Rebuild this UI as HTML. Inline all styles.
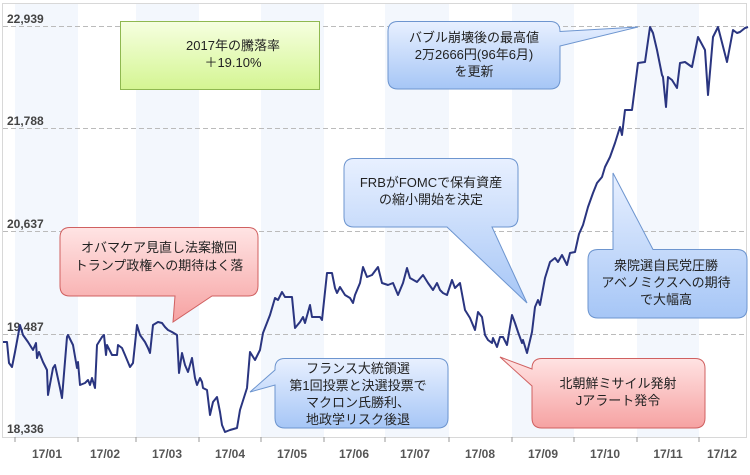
<!DOCTYPE html>
<html><head><meta charset="utf-8"><style>
body{margin:0;background:#fff;}
svg text{font-family:"Liberation Sans","Noto Sans CJK JP",sans-serif;}
</style></head><body>
<svg width="750" height="470" viewBox="0 0 750 470" xmlns="http://www.w3.org/2000/svg">
<defs>
<linearGradient id="gG" x1="0" y1="0" x2="0" y2="1"><stop offset="0" stop-color="#f6ffe0"/><stop offset="1" stop-color="#d4f592"/></linearGradient>
<linearGradient id="gB" x1="0" y1="0" x2="0" y2="1"><stop offset="0" stop-color="#e8f0ff"/><stop offset="1" stop-color="#a6c6f6"/></linearGradient>
<linearGradient id="gR" x1="0" y1="0" x2="0" y2="1"><stop offset="0" stop-color="#ffe4e4"/><stop offset="1" stop-color="#f6a2a2"/></linearGradient>
</defs>
<rect x="0" y="0" width="750" height="470" fill="#fff"/>
<g fill="#f3f7fd">
<rect x="15" y="4" width="63" height="433"/>
<rect x="136" y="4" width="63" height="433"/>
<rect x="261" y="4" width="63" height="433"/>
<rect x="385" y="4" width="64" height="433"/>
<rect x="512" y="4" width="62" height="433"/>
<rect x="637" y="4" width="62" height="433"/>
</g>
<rect x="2.5" y="3.5" width="744" height="434" fill="none" stroke="#d8d8d8"/>
<g stroke="#bbb" stroke-dasharray="5,3" stroke-width="1">
<line x1="3" y1="26.5" x2="746" y2="26.5"/>
<line x1="3" y1="128.5" x2="746" y2="128.5"/>
<line x1="3" y1="231.5" x2="746" y2="231.5"/>
<line x1="3" y1="334.5" x2="746" y2="334.5"/>
</g>
<g font-size="12" font-weight="bold" fill="#444">
<text x="7" y="23">22,939</text>
<text x="7" y="125">21,788</text>
<text x="7" y="228">20,637</text>
<text x="7" y="331">19,487</text>
<text x="7" y="433">18,336</text>
</g>
<g stroke="#999" stroke-width="1">
<line x1="15" y1="437" x2="15" y2="442"/><line x1="78" y1="437" x2="78" y2="442"/>
<line x1="136" y1="437" x2="136" y2="442"/><line x1="199" y1="437" x2="199" y2="442"/>
<line x1="261" y1="437" x2="261" y2="442"/><line x1="324" y1="437" x2="324" y2="442"/>
<line x1="385" y1="437" x2="385" y2="442"/><line x1="449" y1="437" x2="449" y2="442"/>
<line x1="512" y1="437" x2="512" y2="442"/><line x1="574" y1="437" x2="574" y2="442"/>
<line x1="637" y1="437" x2="637" y2="442"/><line x1="699" y1="437" x2="699" y2="442"/>
</g>
<g font-size="12" font-weight="bold" fill="#555" text-anchor="middle">
<text x="47" y="458">17/01</text><text x="105" y="458">17/02</text><text x="167" y="458">17/03</text>
<text x="230" y="458">17/04</text><text x="292" y="458">17/05</text><text x="354" y="458">17/06</text>
<text x="415" y="458">17/07</text><text x="480" y="458">17/08</text><text x="543" y="458">17/09</text>
<text x="605" y="458">17/10</text><text x="668" y="458">17/11</text><text x="722" y="458">17/12</text>
</g>
<polyline fill="none" stroke="#2a3580" stroke-width="2" stroke-linejoin="round" points="3,342 7,342 9,363 12,367 15,352 20,325 23,335 28,342 33,350 36,343 37,358 39,352 43,362 47,370 48,395 53,368 55,365 60,388 62,398 67,337 68,335 73,345 77,368 78,362 80,385 85,383 88,380 90,385 92,378 95,388 97,345 102,337 104,335 106,355 107,345 112,355 117,355 118,345 122,348 125,355 130,367 133,363 137,325 140,335 145,342 148,348 150,353 153,325 158,322 162,323 165,327 168,330 172,332 177,335 179,373 182,353 185,365 188,372 192,358 195,378 197,385 200,378 202,382 203,388 207,390 210,415 213,402 217,397 220,412 222,425 225,432 230,430 237,428 240,410 247,388 250,352 255,360 260,350 263,333 270,315 275,298 278,300 282,292 285,297 292,297 295,328 300,322 303,317 305,323 310,305 312,317 320,317 322,320 327,273 332,273 335,288 337,293 340,287 345,295 350,298 353,303 355,295 360,283 363,267 367,277 372,275 378,267 382,283 388,285 393,283 398,295 403,283 407,268 410,278 417,282 423,275 428,283 433,290 437,283 440,290 443,293 447,295 452,280 455,288 460,283 465,310 470,318 475,330 478,312 482,317 485,335 488,340 492,343 493,338 497,347 500,337 503,337 507,345 512,315 515,323 518,332 522,343 523,340 527,353 532,332 535,307 538,300 540,305 545,278 550,262 555,258 558,262 562,255 567,265 570,253 575,252 579,234 583,225 588,207 593,193 597,183 602,177 605,167 610,157 615,143 620,127 622,135 625,110 632,110 638,63 645,62 650,27 653,33 657,50 662,75 663,77 666,107 668,77 672,80 677,88 680,63 685,62 692,67 698,37 705,50 708,95 713,37 718,27 727,62 733,30 737,33 740,32 745,28 748,27"/>
<!-- green box -->
<rect x="120.5" y="21.5" width="199" height="68" fill="url(#gG)" stroke="#8fb850"/>
<g font-size="13" fill="#222" text-anchor="middle">
<text x="233" y="50">2017年の騰落率</text><text x="233" y="67">＋19.10%</text>
</g>
<!-- bubble callout -->
<path d="M398,21.5 H550 Q560,21.5 560,31.5 L638,27 L560,46 V79 Q560,89 550,89 H398 Q388,89 388,79 V31.5 Q388,21.5 398,21.5 Z" fill="url(#gB)" stroke="#6d95cf"/>
<g font-size="13" fill="#222" text-anchor="middle">
<text x="474" y="42">バブル崩壊後の最高値</text><text x="474" y="59">2万2666円(96年6月)</text><text x="474" y="76">を更新</text>
</g>
<!-- FRB -->
<path d="M354,158.5 H508 Q518,158.5 518,168.5 V217 Q518,227 508,227 H492 L527,303 L447,227 H354 Q344,227 344,217 V168.5 Q344,158.5 354,158.5 Z" fill="url(#gB)" stroke="#6d95cf"/>
<g font-size="13" fill="#222" text-anchor="middle">
<text x="431" y="187">FRBがFOMCで保有資産</text><text x="431" y="204">の縮小開始を決定</text>
</g>
<!-- Obamacare -->
<path d="M70,227.5 H248 Q258,227.5 258,237.5 V286 Q258,296 248,296 H212 L173,322 L175,296 H70 Q60,296 60,286 V237.5 Q60,227.5 70,227.5 Z" fill="url(#gR)" stroke="#d06060"/>
<g font-size="13" fill="#222" text-anchor="middle">
<text x="159" y="252">オバマケア見直し法案撤回</text><text x="159" y="270">トランプ政権への期待はく落</text>
</g>
<!-- France -->
<path d="M285,358.5 H438 Q448,358.5 448,368.5 V418 Q448,428 438,428 H285 Q275,428 275,418 V385 L250,392 L275,370 V368.5 Q275,358.5 285,358.5 Z" fill="url(#gB)" stroke="#6d95cf"/>
<g font-size="13" fill="#222" text-anchor="middle">
<text x="358" y="373">フランス大統領選</text><text x="358" y="390">第1回投票と決選投票で</text><text x="358" y="407">マクロン氏勝利、</text><text x="358" y="424">地政学リスク後退</text>
</g>
<!-- North Korea -->
<path d="M542,358.5 H695 Q705,358.5 705,368.5 V418 Q705,428 695,428 H542 Q532,428 532,418 V386 L500,357 L532,369 V368.5 Q532,358.5 542,358.5 Z" fill="url(#gR)" stroke="#d06060"/>
<g font-size="13" fill="#222" text-anchor="middle">
<text x="618" y="388">北朝鮮ミサイル発射</text><text x="618" y="405">Jアラート発令</text>
</g>
<!-- Election -->
<path d="M598,249.5 H613 L613,173 L653,249.5 H737 Q747,249.5 747,259.5 V308 Q747,318 737,318 H598 Q588,318 588,308 V259.5 Q588,249.5 598,249.5 Z" fill="url(#gB)" stroke="#6d95cf"/>
<g font-size="13" fill="#222" text-anchor="middle">
<text x="666" y="270">衆院選自民党圧勝</text><text x="666" y="287">アベノミクスへの期待</text><text x="666" y="304">で大幅高</text>
</g>
</svg>
</body></html>
